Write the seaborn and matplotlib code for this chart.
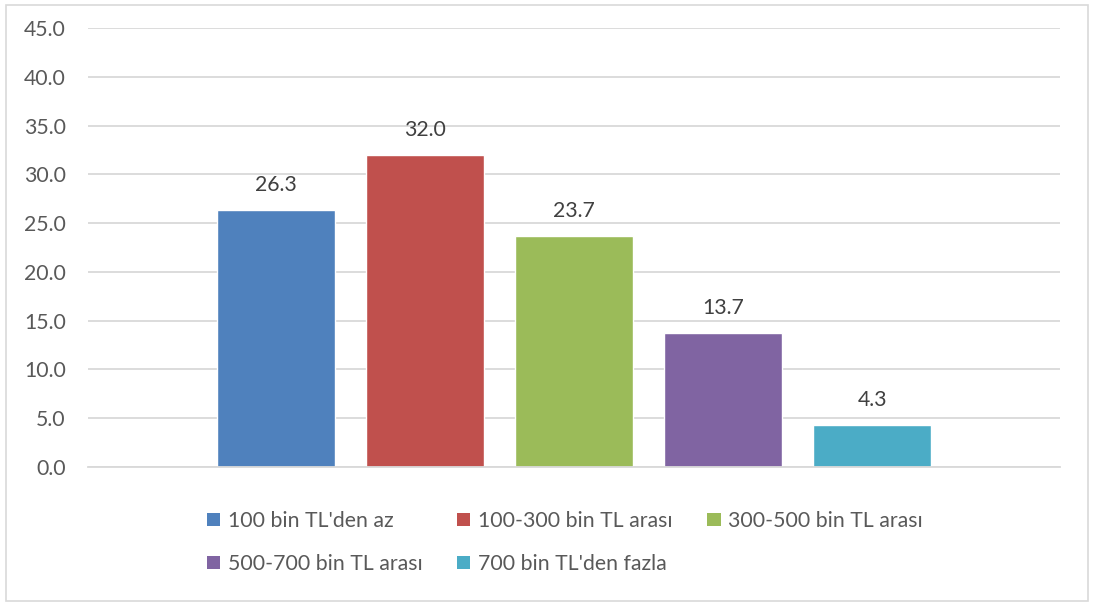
import matplotlib
matplotlib.use("Agg")
import matplotlib.pyplot as plt
from matplotlib.patches import Patch, Rectangle
import seaborn as sns
import pandas as pd

categories = ["100 bin TL'den az", "100-300 bin TL arası", "300-500 bin TL arası",
              "500-700 bin TL arası", "700 bin TL'den fazla"]
values = [26.3, 32.0, 23.7, 13.7, 4.3]
colors = ["#4f81bd", "#c0504d", "#9bbb59", "#8064a2", "#4bacc6"]
yticks = [0, 5, 10, 15, 20, 25, 30, 35, 40, 45]

df = pd.DataFrame({"grup": [""] * len(categories), "dilim": categories, "oran": values})

sns.set_theme(style="white")
plt.rcParams["font.family"] = ["Lato", "DejaVu Sans"]
FS = 15.3

fig = plt.figure(figsize=(10.94, 6.03), dpi=100)
ax = fig.add_axes([88 / 1094, 1 - 467 / 603, (1060 - 88) / 1094, (467 - 28) / 603])

sns.barplot(data=df, x="grup", y="oran", hue="dilim", hue_order=categories,
            palette=colors, width=0.7675, gap=0.21, saturation=1,
            legend=False, ax=ax)

ax.set_xlim(-0.5, 0.5)
ax.set_ylim(0, 45)
ax.set_yticks(yticks)
ax.set_yticklabels([f"{t:.1f}" for t in yticks], fontsize=FS, color="#595959")
ax.set_xticks([])
ax.set_xlabel("")
ax.set_ylabel("")
ax.tick_params(axis="y", length=0, pad=16)
ax.grid(axis="y", color="#d9d9d9", linewidth=1.3)
ax.set_axisbelow(True)
for s in ["top", "right", "left"]:
    ax.spines[s].set_visible(False)
ax.spines["bottom"].set_color("#d9d9d9")
ax.spines["bottom"].set_linewidth(1.3)

for cont in ax.containers:
    ax.bar_label(cont, fmt="%.1f", padding=11, fontsize=FS, color="#404040")

# legend laid out row by row: three entries on top, two below
order = [0, 3, 1, 4, 2]
handles = [Patch(facecolor=colors[i], edgecolor="none") for i in order]
labels = [categories[i] for i in order]
fig.legend(handles, labels, ncol=3, loc="upper left",
           bbox_to_anchor=(207 / 1094, 1 - 511 / 603), frameon=False, borderpad=0,
           borderaxespad=0, fontsize=FS, labelcolor="#595959",
           handlelength=0.62, handleheight=0.62, handletextpad=0.35,
           columnspacing=1.65, labelspacing=1.08)

fig.patches.append(Rectangle((6 / 1094, 2 / 603), (1088 - 6) / 1094, (598 - 2) / 603,
                             transform=fig.transFigure, fill=False,
                             edgecolor="#d9d9d9", linewidth=1.2))

fig.savefig("out.png", dpi=100)
